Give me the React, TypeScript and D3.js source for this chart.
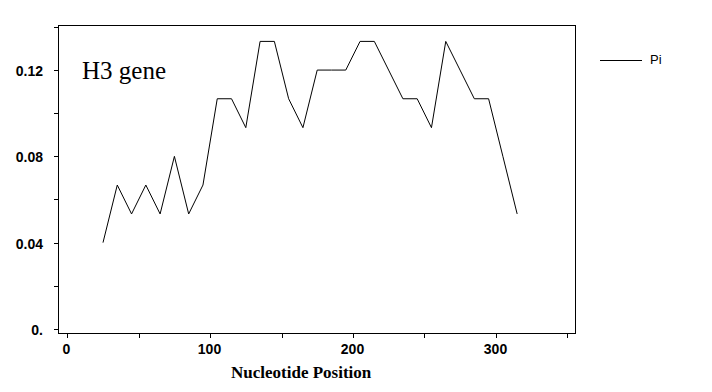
import React, { useRef, useEffect } from 'react';
import * as d3 from 'd3';

// Nucleotide positions (window midpoints) and nucleotide diversity Pi
const positions = [25, 35, 45, 55, 65, 75, 85, 95, 105, 115, 125, 135, 145, 155, 165,
  175, 185, 195, 205, 215, 225, 235, 245, 255, 265, 275, 285, 295, 305, 315];
const piValues = [0.04, 0.0667, 0.0533, 0.0667, 0.0533, 0.08, 0.0533, 0.0667, 0.1067, 0.1067,
  0.0933, 0.1333, 0.1333, 0.1067, 0.0933, 0.12, 0.12, 0.12, 0.1333, 0.1333,
  0.12, 0.1067, 0.1067, 0.0933, 0.1333, 0.12, 0.1067, 0.1067, 0.08, 0.0533];

const xTicks = [0, 50, 100, 150, 200, 250, 300, 350];
const xTickLabels = ['0', '', '100', '', '200', '', '300', ''];
const yTicks = [0, 0.02, 0.04, 0.06, 0.08, 0.1, 0.12, 0.14];
const yTickLabels = ['0.', '', '0.04', '', '0.08', '', '0.12', ''];

const seriesName = 'Pi';
const chartTitle = 'H3 gene';
const xTitle = 'Nucleotide Position';

const width = 712;
const height = 392;

export default function App() {
  const svgRef = useRef<SVGSVGElement>(null);

  useEffect(() => {
    if (!svgRef.current) return;
    const svg = d3.select(svgRef.current);
    svg.selectAll('*').remove();

    const plot = { left: 58, top: 25, right: 575, bottom: 333 };

    const xScale = d3.scaleLinear().domain([-6.5, 355.5]).range([plot.left, plot.right]);
    const yScale = d3.scaleLinear().domain([-0.0019, 0.1409]).range([plot.bottom, plot.top]);

    // frame
    svg.append('rect')
      .attr('x', plot.left + 0.5)
      .attr('y', plot.top + 0.5)
      .attr('width', plot.right - plot.left)
      .attr('height', plot.bottom - plot.top)
      .attr('fill', 'none')
      .attr('stroke', '#000')
      .attr('stroke-width', 1)
      .attr('shape-rendering', 'crispEdges');

    // y ticks
    const yAxis = svg.append('g').attr('shape-rendering', 'crispEdges');
    yTicks.forEach((t, i) => {
      const y = Math.round(yScale(t)) + 0.5;
      yAxis.append('line')
        .attr('x1', plot.left - 4).attr('x2', plot.left)
        .attr('y1', y).attr('y2', y)
        .attr('stroke', '#000');
      if (yTickLabels[i]) {
        yAxis.append('text')
          .attr('x', 43)
          .attr('y', y + 5)
          .attr('text-anchor', 'end')
          .attr('font-family', '"Liberation Sans", Arial, sans-serif')
          .attr('font-weight', 'bold')
          .attr('font-size', '14px')
          .text(yTickLabels[i]);
      }
    });

    // x ticks
    const xAxis = svg.append('g').attr('shape-rendering', 'crispEdges');
    xTicks.forEach((t, i) => {
      const x = Math.round(xScale(t)) + 0.5;
      xAxis.append('line')
        .attr('x1', x).attr('x2', x)
        .attr('y1', plot.bottom).attr('y2', plot.bottom + 5)
        .attr('stroke', '#000');
      if (xTickLabels[i]) {
        xAxis.append('text')
          .attr('x', x - 1)
          .attr('y', 353.5)
          .attr('text-anchor', 'middle')
          .attr('font-family', '"Liberation Sans", Arial, sans-serif')
          .attr('font-weight', 'bold')
          .attr('font-size', '14px')
          .text(xTickLabels[i]);
      }
    });

    // data line
    const line = d3.line<number>()
      .x((_, i) => xScale(positions[i]))
      .y(d => yScale(d));

    svg.append('path')
      .datum(piValues)
      .attr('d', line)
      .attr('fill', 'none')
      .attr('stroke', '#000')
      .attr('stroke-width', 1);

    // title inside plot
    svg.append('text')
      .attr('x', 82)
      .attr('y', 79)
      .attr('font-family', '"Liberation Serif", "Times New Roman", serif')
      .attr('font-size', '25px')
      .text(chartTitle);

    // x axis title
    svg.append('text')
      .attr('x', 231)
      .attr('y', 378)
      .attr('font-family', '"Liberation Serif", "Times New Roman", serif')
      .attr('font-weight', 'bold')
      .attr('font-size', '17px')
      .text(xTitle);

    // legend
    svg.append('line')
      .attr('x1', 600).attr('x2', 642)
      .attr('y1', 60.5).attr('y2', 60.5)
      .attr('stroke', '#000')
      .attr('shape-rendering', 'crispEdges');
    svg.append('text')
      .attr('x', 650)
      .attr('y', 64)
      .attr('font-family', '"Liberation Sans", Arial, sans-serif')
      .attr('font-size', '13px')
      .text(seriesName);
  }, []);

  return (
    <svg
      ref={svgRef}
      width={width}
      height={height}
      style={{ position: 'absolute', left: 0, top: 0, background: '#fff' }}
    />
  );
}
